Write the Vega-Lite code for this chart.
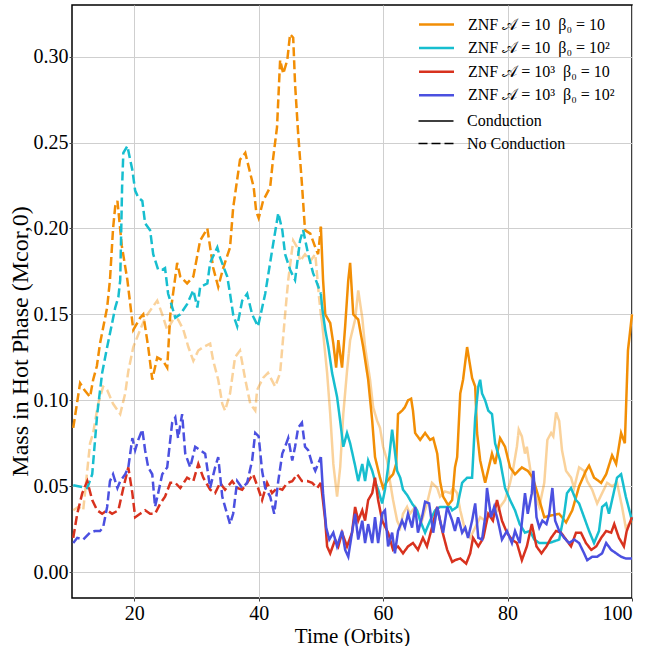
{
"$schema": "https://vega.github.io/schema/vega-lite/v6.json",
"width": 560, "height": 593,
"autosize": {"type": "none"},
"padding": {"left": 72, "top": 5, "right": 16, "bottom": 48},
"background": "white",
"config": {
 "view": {"stroke": "black", "strokeWidth": 1.5},
 "font": "Liberation Serif",
 "axis": {"labelFont": "Liberation Serif", "titleFont": "Liberation Serif", "labelFontSize": 20, "titleFontSize": 21, "titleFontWeight": "normal", "labelColor": "black", "titleColor": "black", "gridColor": "#cfcfcf", "gridWidth": 1, "ticks": true, "tickSize": 3, "tickColor": "#444444", "domain": false},
 "legend": {"labelFont": "Liberation Serif", "labelFontSize": 16, "labelColor": "black", "symbolType": "M-1.75,0H1.75", "symbolSize": 400, "labelOffset": 20, "rowPadding": 3.6, "padding": 0, "title": null}
},
"data": {"values": [
{"s":"P","c":"N","x":10.2,"y":0.036},{"s":"P","c":"N","x":11.0,"y":0.038},{"s":"P","c":"N","x":11.8,"y":0.036},{"s":"P","c":"N","x":12.9,"y":0.075},{"s":"P","c":"N","x":13.4,"y":0.081},{"s":"P","c":"N","x":14.2,"y":0.098},{"s":"P","c":"N","x":15.0,"y":0.108},{"s":"P","c":"N","x":15.65,"y":0.106},{"s":"P","c":"N","x":16.6,"y":0.098},{"s":"P","c":"N","x":17.75,"y":0.092},{"s":"P","c":"N","x":18.55,"y":0.104},{"s":"P","c":"N","x":19.05,"y":0.117},{"s":"P","c":"N","x":19.85,"y":0.131},{"s":"P","c":"N","x":20.95,"y":0.141},{"s":"P","c":"N","x":21.75,"y":0.148},{"s":"P","c":"N","x":22.9,"y":0.154},{"s":"P","c":"N","x":23.7,"y":0.158},{"s":"P","c":"N","x":24.5,"y":0.15},{"s":"P","c":"N","x":25.3,"y":0.141},{"s":"P","c":"N","x":26.25,"y":0.147},{"s":"P","c":"N","x":27.05,"y":0.147},{"s":"P","c":"N","x":27.9,"y":0.141},{"s":"P","c":"N","x":28.7,"y":0.131},{"s":"P","c":"N","x":29.5,"y":0.123},{"s":"P","c":"N","x":30.3,"y":0.129},{"s":"P","c":"N","x":31.1,"y":0.131},{"s":"P","c":"N","x":32.2,"y":0.133},{"s":"P","c":"N","x":32.7,"y":0.123},{"s":"P","c":"N","x":33.5,"y":0.112},{"s":"P","c":"N","x":34.15,"y":0.098},{"s":"P","c":"N","x":34.6,"y":0.094},{"s":"P","c":"N","x":35.4,"y":0.104},{"s":"P","c":"N","x":36.2,"y":0.125},{"s":"P","c":"N","x":37.0,"y":0.129},{"s":"P","c":"N","x":37.85,"y":0.112},{"s":"P","c":"N","x":38.65,"y":0.098},{"s":"P","c":"N","x":39.45,"y":0.094},{"s":"P","c":"N","x":39.75,"y":0.106},{"s":"P","c":"N","x":40.7,"y":0.113},{"s":"P","c":"N","x":41.5,"y":0.116},{"s":"P","c":"N","x":42.65,"y":0.108},{"s":"P","c":"N","x":43.45,"y":0.116},{"s":"P","c":"N","x":44.25,"y":0.15},{"s":"P","c":"N","x":44.75,"y":0.17},{"s":"P","c":"N","x":45.55,"y":0.193},{"s":"P","c":"N","x":46.2,"y":0.189},{"s":"P","c":"N","x":46.65,"y":0.181},{"s":"P","c":"N","x":47.45,"y":0.185},{"s":"P","c":"N","x":48.3,"y":0.181},{"s":"P","c":"N","x":49.1,"y":0.185},{"s":"P","c":"N","x":49.7,"y":0.16},{"s":"P","c":"N","x":50.0,"y":0.15},
{"s":"P","c":"C","x":50.0,"y":0.15},{"s":"P","c":"C","x":50.2,"y":0.145},{"s":"P","c":"C","x":51.0,"y":0.116},{"s":"P","c":"C","x":51.5,"y":0.092},{"s":"P","c":"C","x":52.0,"y":0.063},{"s":"P","c":"C","x":52.6,"y":0.044},{"s":"P","c":"C","x":53.1,"y":0.061},{"s":"P","c":"C","x":53.6,"y":0.092},{"s":"P","c":"C","x":54.2,"y":0.117},{"s":"P","c":"C","x":54.7,"y":0.135},{"s":"P","c":"C","x":55.5,"y":0.147},{"s":"P","c":"C","x":56.0,"y":0.164},{"s":"P","c":"C","x":56.65,"y":0.148},{"s":"P","c":"C","x":57.1,"y":0.131},{"s":"P","c":"C","x":57.9,"y":0.112},{"s":"P","c":"C","x":58.4,"y":0.096},{"s":"P","c":"C","x":59.05,"y":0.088},{"s":"P","c":"C","x":59.5,"y":0.084},{"s":"P","c":"C","x":60.0,"y":0.073},{"s":"P","c":"C","x":60.65,"y":0.065},{"s":"P","c":"C","x":61.1,"y":0.053},{"s":"P","c":"C","x":61.6,"y":0.042},{"s":"P","c":"C","x":62.25,"y":0.03},{"s":"P","c":"C","x":62.75,"y":0.026},{"s":"P","c":"C","x":63.2,"y":0.034},{"s":"P","c":"C","x":63.85,"y":0.038},{"s":"P","c":"C","x":64.3,"y":0.034},{"s":"P","c":"C","x":65.15,"y":0.038},{"s":"P","c":"C","x":66.25,"y":0.03},{"s":"P","c":"C","x":67.05,"y":0.04},{"s":"P","c":"C","x":67.85,"y":0.052},{"s":"P","c":"C","x":68.7,"y":0.049},{"s":"P","c":"C","x":69.15,"y":0.044},{"s":"P","c":"C","x":69.95,"y":0.047},{"s":"P","c":"C","x":70.8,"y":0.046},{"s":"P","c":"C","x":71.25,"y":0.049},{"s":"P","c":"C","x":71.9,"y":0.046},{"s":"P","c":"C","x":72.4,"y":0.036},{"s":"P","c":"C","x":73.2,"y":0.024},{"s":"P","c":"C","x":74.0,"y":0.02},{"s":"P","c":"C","x":74.8,"y":0.026},{"s":"P","c":"C","x":75.6,"y":0.032},{"s":"P","c":"C","x":76.4,"y":0.03},{"s":"P","c":"C","x":77.2,"y":0.034},{"s":"P","c":"C","x":78.0,"y":0.034},{"s":"P","c":"C","x":78.8,"y":0.038},{"s":"P","c":"C","x":79.6,"y":0.042},{"s":"P","c":"C","x":80.4,"y":0.052},{"s":"P","c":"C","x":80.85,"y":0.059},{"s":"P","c":"C","x":81.5,"y":0.073},{"s":"P","c":"C","x":81.8,"y":0.083},{"s":"P","c":"C","x":82.3,"y":0.079},{"s":"P","c":"C","x":82.8,"y":0.069},{"s":"P","c":"C","x":83.1,"y":0.073},{"s":"P","c":"C","x":83.6,"y":0.061},{"s":"P","c":"C","x":84.3,"y":0.046},{"s":"P","c":"C","x":85.1,"y":0.038},{"s":"P","c":"C","x":85.9,"y":0.052},{"s":"P","c":"C","x":86.4,"y":0.077},{"s":"P","c":"C","x":87.0,"y":0.081},{"s":"P","c":"C","x":87.35,"y":0.079},{"s":"P","c":"C","x":87.8,"y":0.093},{"s":"P","c":"C","x":88.3,"y":0.088},{"s":"P","c":"C","x":88.75,"y":0.071},{"s":"P","c":"C","x":89.4,"y":0.059},{"s":"P","c":"C","x":90.2,"y":0.055},{"s":"P","c":"C","x":90.7,"y":0.049},{"s":"P","c":"C","x":91.5,"y":0.061},{"s":"P","c":"C","x":92.3,"y":0.059},{"s":"P","c":"C","x":92.8,"y":0.053},{"s":"P","c":"C","x":93.6,"y":0.048},{"s":"P","c":"C","x":94.4,"y":0.04},{"s":"P","c":"C","x":95.2,"y":0.046},{"s":"P","c":"C","x":96.0,"y":0.052},{"s":"P","c":"C","x":96.8,"y":0.05},{"s":"P","c":"C","x":97.6,"y":0.052},{"s":"P","c":"C","x":98.4,"y":0.038},{"s":"P","c":"C","x":99.0,"y":0.026},{"s":"P","c":"C","x":99.5,"y":0.028},{"s":"P","c":"C","x":100,"y":0.03},

{"s":"A","c":"N","x":10.2,"y":0.084},{"s":"A","c":"N","x":11.3,"y":0.11},{"s":"A","c":"N","x":12.0,"y":0.106},{"s":"A","c":"N","x":12.9,"y":0.102},{"s":"A","c":"N","x":13.4,"y":0.112},{"s":"A","c":"N","x":14.0,"y":0.12},{"s":"A","c":"N","x":14.5,"y":0.133},{"s":"A","c":"N","x":15.65,"y":0.154},{"s":"A","c":"N","x":16.1,"y":0.17},{"s":"A","c":"N","x":16.6,"y":0.2},{"s":"A","c":"N","x":16.95,"y":0.213},{"s":"A","c":"N","x":17.3,"y":0.216},{"s":"A","c":"N","x":17.6,"y":0.205},{"s":"A","c":"N","x":18.0,"y":0.19},{"s":"A","c":"N","x":18.9,"y":0.17},{"s":"A","c":"N","x":19.85,"y":0.141},{"s":"A","c":"N","x":20.95,"y":0.148},{"s":"A","c":"N","x":21.45,"y":0.15},{"s":"A","c":"N","x":22.25,"y":0.131},{"s":"A","c":"N","x":22.9,"y":0.112},{"s":"A","c":"N","x":23.7,"y":0.125},{"s":"A","c":"N","x":24.65,"y":0.123},{"s":"A","c":"N","x":25.3,"y":0.119},{"s":"A","c":"N","x":25.8,"y":0.15},{"s":"A","c":"N","x":26.9,"y":0.18},{"s":"A","c":"N","x":27.4,"y":0.172},{"s":"A","c":"N","x":28.5,"y":0.168},{"s":"A","c":"N","x":29.5,"y":0.172},{"s":"A","c":"N","x":30.6,"y":0.193},{"s":"A","c":"N","x":31.75,"y":0.2},{"s":"A","c":"N","x":32.7,"y":0.177},{"s":"A","c":"N","x":33.5,"y":0.166},{"s":"A","c":"N","x":34.3,"y":0.177},{"s":"A","c":"N","x":35.4,"y":0.189},{"s":"A","c":"N","x":35.9,"y":0.212},{"s":"A","c":"N","x":37.0,"y":0.24},{"s":"A","c":"N","x":37.85,"y":0.244},{"s":"A","c":"N","x":38.65,"y":0.232},{"s":"A","c":"N","x":39.2,"y":0.224},{"s":"A","c":"N","x":39.6,"y":0.21},{"s":"A","c":"N","x":40.0,"y":0.206},{"s":"A","c":"N","x":40.3,"y":0.21},{"s":"A","c":"N","x":40.7,"y":0.216},{"s":"A","c":"N","x":41.85,"y":0.224},{"s":"A","c":"N","x":42.3,"y":0.24},{"s":"A","c":"N","x":42.95,"y":0.259},{"s":"A","c":"N","x":43.45,"y":0.298},{"s":"A","c":"N","x":43.95,"y":0.29},{"s":"A","c":"N","x":44.6,"y":0.298},{"s":"A","c":"N","x":45.05,"y":0.313},{"s":"A","c":"N","x":45.55,"y":0.311},{"s":"A","c":"N","x":45.85,"y":0.284},{"s":"A","c":"N","x":46.35,"y":0.255},{"s":"A","c":"N","x":46.95,"y":0.226},{"s":"A","c":"N","x":47.45,"y":0.199},{"s":"A","c":"N","x":48.3,"y":0.197},{"s":"A","c":"N","x":49.1,"y":0.189},{"s":"A","c":"N","x":49.55,"y":0.185},{"s":"A","c":"N","x":49.9,"y":0.197},{"s":"A","c":"N","x":50.0,"y":0.201},
{"s":"A","c":"C","x":50.0,"y":0.201},{"s":"A","c":"C","x":50.35,"y":0.17},{"s":"A","c":"C","x":50.7,"y":0.15},{"s":"A","c":"C","x":51.5,"y":0.145},{"s":"A","c":"C","x":52.0,"y":0.133},{"s":"A","c":"C","x":52.45,"y":0.119},{"s":"A","c":"C","x":52.8,"y":0.135},{"s":"A","c":"C","x":53.4,"y":0.119},{"s":"A","c":"C","x":53.9,"y":0.143},{"s":"A","c":"C","x":54.4,"y":0.17},{"s":"A","c":"C","x":54.7,"y":0.18},{"s":"A","c":"C","x":55.2,"y":0.15},{"s":"A","c":"C","x":56.0,"y":0.147},{"s":"A","c":"C","x":56.8,"y":0.131},{"s":"A","c":"C","x":57.6,"y":0.112},{"s":"A","c":"C","x":58.25,"y":0.088},{"s":"A","c":"C","x":58.7,"y":0.067},{"s":"A","c":"C","x":59.5,"y":0.055},{"s":"A","c":"C","x":60.0,"y":0.049},{"s":"A","c":"C","x":60.65,"y":0.053},{"s":"A","c":"C","x":61.1,"y":0.055},{"s":"A","c":"C","x":61.6,"y":0.057},{"s":"A","c":"C","x":62.1,"y":0.063},{"s":"A","c":"C","x":62.4,"y":0.092},{"s":"A","c":"C","x":63.05,"y":0.094},{"s":"A","c":"C","x":63.5,"y":0.096},{"s":"A","c":"C","x":64.0,"y":0.1},{"s":"A","c":"C","x":64.5,"y":0.101},{"s":"A","c":"C","x":64.8,"y":0.094},{"s":"A","c":"C","x":65.15,"y":0.081},{"s":"A","c":"C","x":65.95,"y":0.077},{"s":"A","c":"C","x":66.75,"y":0.081},{"s":"A","c":"C","x":67.55,"y":0.077},{"s":"A","c":"C","x":68.05,"y":0.078},{"s":"A","c":"C","x":68.7,"y":0.069},{"s":"A","c":"C","x":69.15,"y":0.053},{"s":"A","c":"C","x":69.65,"y":0.044},{"s":"A","c":"C","x":70.45,"y":0.039},{"s":"A","c":"C","x":71.1,"y":0.042},{"s":"A","c":"C","x":71.55,"y":0.061},{"s":"A","c":"C","x":71.9,"y":0.067},{"s":"A","c":"C","x":72.4,"y":0.104},{"s":"A","c":"C","x":72.85,"y":0.112},{"s":"A","c":"C","x":73.5,"y":0.131},{"s":"A","c":"C","x":74.3,"y":0.113},{"s":"A","c":"C","x":74.8,"y":0.108},{"s":"A","c":"C","x":75.1,"y":0.081},{"s":"A","c":"C","x":75.6,"y":0.065},{"s":"A","c":"C","x":76.4,"y":0.052},{"s":"A","c":"C","x":77.5,"y":0.069},{"s":"A","c":"C","x":78.0,"y":0.063},{"s":"A","c":"C","x":78.8,"y":0.078},{"s":"A","c":"C","x":79.6,"y":0.073},{"s":"A","c":"C","x":80.4,"y":0.061},{"s":"A","c":"C","x":81.2,"y":0.057},{"s":"A","c":"C","x":82.3,"y":0.061},{"s":"A","c":"C","x":83.25,"y":0.059},{"s":"A","c":"C","x":84.05,"y":0.055},{"s":"A","c":"C","x":84.8,"y":0.046},{"s":"A","c":"C","x":85.9,"y":0.032},{"s":"A","c":"C","x":87.0,"y":0.033},{"s":"A","c":"C","x":88.3,"y":0.034},{"s":"A","c":"C","x":89.4,"y":0.029},{"s":"A","c":"C","x":90.4,"y":0.036},{"s":"A","c":"C","x":91.5,"y":0.05},{"s":"A","c":"C","x":92.6,"y":0.059},{"s":"A","c":"C","x":93.1,"y":0.062},{"s":"A","c":"C","x":93.9,"y":0.055},{"s":"A","c":"C","x":95.05,"y":0.052},{"s":"A","c":"C","x":95.85,"y":0.057},{"s":"A","c":"C","x":96.8,"y":0.068},{"s":"A","c":"C","x":97.45,"y":0.063},{"s":"A","c":"C","x":98.25,"y":0.081},{"s":"A","c":"C","x":98.85,"y":0.075},{"s":"A","c":"C","x":99.35,"y":0.129},{"s":"A","c":"C","x":100,"y":0.15},

{"s":"B","c":"N","x":10.2,"y":0.0506},{"s":"B","c":"N","x":11.0,"y":0.05},{"s":"B","c":"N","x":12.45,"y":0.049},{"s":"B","c":"N","x":13.25,"y":0.057},{"s":"B","c":"N","x":14.05,"y":0.092},{"s":"B","c":"N","x":14.85,"y":0.116},{"s":"B","c":"N","x":15.65,"y":0.131},{"s":"B","c":"N","x":16.45,"y":0.145},{"s":"B","c":"N","x":16.95,"y":0.154},{"s":"B","c":"N","x":17.45,"y":0.16},{"s":"B","c":"N","x":17.75,"y":0.17},{"s":"B","c":"N","x":18.05,"y":0.224},{"s":"B","c":"N","x":18.25,"y":0.244},{"s":"B","c":"N","x":18.9,"y":0.248},{"s":"B","c":"N","x":19.35,"y":0.24},{"s":"B","c":"N","x":19.7,"y":0.234},{"s":"B","c":"N","x":20.15,"y":0.222},{"s":"B","c":"N","x":20.65,"y":0.218},{"s":"B","c":"N","x":21.3,"y":0.216},{"s":"B","c":"N","x":21.75,"y":0.203},{"s":"B","c":"N","x":22.55,"y":0.199},{"s":"B","c":"N","x":23.05,"y":0.185},{"s":"B","c":"N","x":23.85,"y":0.176},{"s":"B","c":"N","x":24.5,"y":0.176},{"s":"B","c":"N","x":24.95,"y":0.177},{"s":"B","c":"N","x":25.45,"y":0.162},{"s":"B","c":"N","x":25.8,"y":0.158},{"s":"B","c":"N","x":26.6,"y":0.148},{"s":"B","c":"N","x":27.4,"y":0.15},{"s":"B","c":"N","x":28.5,"y":0.156},{"s":"B","c":"N","x":29.5,"y":0.164},{"s":"B","c":"N","x":30.15,"y":0.154},{"s":"B","c":"N","x":30.6,"y":0.166},{"s":"B","c":"N","x":31.75,"y":0.168},{"s":"B","c":"N","x":32.2,"y":0.18},{"s":"B","c":"N","x":33.35,"y":0.189},{"s":"B","c":"N","x":33.8,"y":0.183},{"s":"B","c":"N","x":34.95,"y":0.172},{"s":"B","c":"N","x":35.4,"y":0.162},{"s":"B","c":"N","x":35.9,"y":0.15},{"s":"B","c":"N","x":36.55,"y":0.143},{"s":"B","c":"N","x":37.35,"y":0.158},{"s":"B","c":"N","x":38.15,"y":0.162},{"s":"B","c":"N","x":38.95,"y":0.15},{"s":"B","c":"N","x":39.9,"y":0.143},{"s":"B","c":"N","x":41.05,"y":0.162},{"s":"B","c":"N","x":42.15,"y":0.187},{"s":"B","c":"N","x":43.15,"y":0.209},{"s":"B","c":"N","x":43.8,"y":0.199},{"s":"B","c":"N","x":44.25,"y":0.185},{"s":"B","c":"N","x":45.05,"y":0.176},{"s":"B","c":"N","x":45.85,"y":0.17},{"s":"B","c":"N","x":46.65,"y":0.193},{"s":"B","c":"N","x":47.15,"y":0.199},{"s":"B","c":"N","x":47.95,"y":0.185},{"s":"B","c":"N","x":48.75,"y":0.174},{"s":"B","c":"N","x":49.4,"y":0.168},{"s":"B","c":"N","x":50.0,"y":0.162},
{"s":"B","c":"C","x":50.0,"y":0.162},{"s":"B","c":"C","x":50.2,"y":0.154},{"s":"B","c":"C","x":50.7,"y":0.141},{"s":"B","c":"C","x":51.2,"y":0.131},{"s":"B","c":"C","x":51.8,"y":0.116},{"s":"B","c":"C","x":52.6,"y":0.102},{"s":"B","c":"C","x":53.1,"y":0.088},{"s":"B","c":"C","x":53.6,"y":0.073},{"s":"B","c":"C","x":54.2,"y":0.081},{"s":"B","c":"C","x":54.7,"y":0.075},{"s":"B","c":"C","x":55.5,"y":0.062},{"s":"B","c":"C","x":56.0,"y":0.053},{"s":"B","c":"C","x":56.65,"y":0.063},{"s":"B","c":"C","x":57.1,"y":0.053},{"s":"B","c":"C","x":57.6,"y":0.065},{"s":"B","c":"C","x":58.25,"y":0.059},{"s":"B","c":"C","x":58.7,"y":0.053},{"s":"B","c":"C","x":59.2,"y":0.048},{"s":"B","c":"C","x":59.85,"y":0.04},{"s":"B","c":"C","x":60.3,"y":0.048},{"s":"B","c":"C","x":60.8,"y":0.061},{"s":"B","c":"C","x":61.45,"y":0.083},{"s":"B","c":"C","x":61.8,"y":0.073},{"s":"B","c":"C","x":62.25,"y":0.059},{"s":"B","c":"C","x":62.75,"y":0.055},{"s":"B","c":"C","x":63.2,"y":0.048},{"s":"B","c":"C","x":63.85,"y":0.045},{"s":"B","c":"C","x":64.65,"y":0.04},{"s":"B","c":"C","x":65.45,"y":0.036},{"s":"B","c":"C","x":65.95,"y":0.03},{"s":"B","c":"C","x":66.75,"y":0.023},{"s":"B","c":"C","x":67.55,"y":0.03},{"s":"B","c":"C","x":68.35,"y":0.036},{"s":"B","c":"C","x":69.15,"y":0.038},{"s":"B","c":"C","x":69.95,"y":0.038},{"s":"B","c":"C","x":70.8,"y":0.038},{"s":"B","c":"C","x":71.1,"y":0.036},{"s":"B","c":"C","x":71.9,"y":0.038},{"s":"B","c":"C","x":72.7,"y":0.052},{"s":"B","c":"C","x":73.5,"y":0.055},{"s":"B","c":"C","x":74.3,"y":0.055},{"s":"B","c":"C","x":74.8,"y":0.09},{"s":"B","c":"C","x":75.3,"y":0.108},{"s":"B","c":"C","x":75.6,"y":0.112},{"s":"B","c":"C","x":75.9,"y":0.104},{"s":"B","c":"C","x":76.4,"y":0.1},{"s":"B","c":"C","x":76.9,"y":0.094},{"s":"B","c":"C","x":77.5,"y":0.092},{"s":"B","c":"C","x":78.0,"y":0.075},{"s":"B","c":"C","x":78.8,"y":0.065},{"s":"B","c":"C","x":79.6,"y":0.049},{"s":"B","c":"C","x":80.4,"y":0.042},{"s":"B","c":"C","x":81.2,"y":0.036},{"s":"B","c":"C","x":81.95,"y":0.028},{"s":"B","c":"C","x":82.8,"y":0.023},{"s":"B","c":"C","x":83.6,"y":0.024},{"s":"B","c":"C","x":84.3,"y":0.019},{"s":"B","c":"C","x":85.1,"y":0.017},{"s":"B","c":"C","x":86.7,"y":0.017},{"s":"B","c":"C","x":88.3,"y":0.019},{"s":"B","c":"C","x":89.1,"y":0.034},{"s":"B","c":"C","x":89.55,"y":0.046},{"s":"B","c":"C","x":90.2,"y":0.049},{"s":"B","c":"C","x":91.0,"y":0.042},{"s":"B","c":"C","x":91.5,"y":0.04},{"s":"B","c":"C","x":92.3,"y":0.032},{"s":"B","c":"C","x":93.1,"y":0.024},{"s":"B","c":"C","x":93.9,"y":0.017},{"s":"B","c":"C","x":94.7,"y":0.024},{"s":"B","c":"C","x":95.2,"y":0.038},{"s":"B","c":"C","x":95.85,"y":0.04},{"s":"B","c":"C","x":96.3,"y":0.034},{"s":"B","c":"C","x":96.8,"y":0.042},{"s":"B","c":"C","x":97.6,"y":0.055},{"s":"B","c":"C","x":98.25,"y":0.057},{"s":"B","c":"C","x":99.0,"y":0.044},{"s":"B","c":"C","x":100,"y":0.03},

{"s":"C","c":"N","x":10.2,"y":0.02},{"s":"C","c":"N","x":10.84,"y":0.034},{"s":"C","c":"N","x":11.65,"y":0.046},{"s":"C","c":"N","x":12.45,"y":0.053},{"s":"C","c":"N","x":13.25,"y":0.042},{"s":"C","c":"N","x":14.05,"y":0.036},{"s":"C","c":"N","x":14.85,"y":0.034},{"s":"C","c":"N","x":15.65,"y":0.036},{"s":"C","c":"N","x":16.45,"y":0.034},{"s":"C","c":"N","x":17.45,"y":0.036},{"s":"C","c":"N","x":18.25,"y":0.049},{"s":"C","c":"N","x":19.05,"y":0.061},{"s":"C","c":"N","x":19.7,"y":0.046},{"s":"C","c":"N","x":20.15,"y":0.032},{"s":"C","c":"N","x":20.95,"y":0.034},{"s":"C","c":"N","x":21.75,"y":0.036},{"s":"C","c":"N","x":22.55,"y":0.034},{"s":"C","c":"N","x":23.35,"y":0.034},{"s":"C","c":"N","x":24.2,"y":0.04},{"s":"C","c":"N","x":24.95,"y":0.044},{"s":"C","c":"N","x":25.8,"y":0.052},{"s":"C","c":"N","x":26.6,"y":0.052},{"s":"C","c":"N","x":27.4,"y":0.049},{"s":"C","c":"N","x":28.5,"y":0.055},{"s":"C","c":"N","x":29.5,"y":0.053},{"s":"C","c":"N","x":30.3,"y":0.063},{"s":"C","c":"N","x":31.1,"y":0.055},{"s":"C","c":"N","x":32.2,"y":0.048},{"s":"C","c":"N","x":33.0,"y":0.046},{"s":"C","c":"N","x":33.8,"y":0.052},{"s":"C","c":"N","x":34.6,"y":0.048},{"s":"C","c":"N","x":35.75,"y":0.053},{"s":"C","c":"N","x":36.55,"y":0.049},{"s":"C","c":"N","x":37.35,"y":0.048},{"s":"C","c":"N","x":38.15,"y":0.052},{"s":"C","c":"N","x":39.1,"y":0.057},{"s":"C","c":"N","x":39.9,"y":0.049},{"s":"C","c":"N","x":40.55,"y":0.042},{"s":"C","c":"N","x":41.35,"y":0.052},{"s":"C","c":"N","x":42.15,"y":0.046},{"s":"C","c":"N","x":42.95,"y":0.049},{"s":"C","c":"N","x":43.8,"y":0.048},{"s":"C","c":"N","x":44.6,"y":0.052},{"s":"C","c":"N","x":45.4,"y":0.053},{"s":"C","c":"N","x":46.2,"y":0.057},{"s":"C","c":"N","x":46.95,"y":0.053},{"s":"C","c":"N","x":47.8,"y":0.053},{"s":"C","c":"N","x":48.6,"y":0.052},{"s":"C","c":"N","x":49.4,"y":0.049},{"s":"C","c":"N","x":50.0,"y":0.052},
{"s":"C","c":"C","x":50.0,"y":0.052},{"s":"C","c":"C","x":50.7,"y":0.03},{"s":"C","c":"C","x":51.0,"y":0.015},{"s":"C","c":"C","x":51.5,"y":0.011},{"s":"C","c":"C","x":52.3,"y":0.019},{"s":"C","c":"C","x":52.8,"y":0.015},{"s":"C","c":"C","x":53.4,"y":0.023},{"s":"C","c":"C","x":54.2,"y":0.015},{"s":"C","c":"C","x":55.0,"y":0.023},{"s":"C","c":"C","x":55.5,"y":0.038},{"s":"C","c":"C","x":56.0,"y":0.03},{"s":"C","c":"C","x":56.65,"y":0.036},{"s":"C","c":"C","x":57.1,"y":0.03},{"s":"C","c":"C","x":57.6,"y":0.042},{"s":"C","c":"C","x":58.25,"y":0.046},{"s":"C","c":"C","x":58.7,"y":0.055},{"s":"C","c":"C","x":59.2,"y":0.042},{"s":"C","c":"C","x":59.85,"y":0.03},{"s":"C","c":"C","x":60.8,"y":0.023},{"s":"C","c":"C","x":61.6,"y":0.013},{"s":"C","c":"C","x":62.4,"y":0.015},{"s":"C","c":"C","x":63.2,"y":0.011},{"s":"C","c":"C","x":64.0,"y":0.015},{"s":"C","c":"C","x":64.8,"y":0.017},{"s":"C","c":"C","x":65.6,"y":0.013},{"s":"C","c":"C","x":66.4,"y":0.02},{"s":"C","c":"C","x":67.05,"y":0.015},{"s":"C","c":"C","x":67.85,"y":0.026},{"s":"C","c":"C","x":68.7,"y":0.038},{"s":"C","c":"C","x":69.5,"y":0.024},{"s":"C","c":"C","x":70.3,"y":0.013},{"s":"C","c":"C","x":71.1,"y":0.006},{"s":"C","c":"C","x":71.55,"y":0.007},{"s":"C","c":"C","x":72.4,"y":0.008},{"s":"C","c":"C","x":73.35,"y":0.005},{"s":"C","c":"C","x":74.0,"y":0.011},{"s":"C","c":"C","x":74.45,"y":0.02},{"s":"C","c":"C","x":75.3,"y":0.015},{"s":"C","c":"C","x":76.1,"y":0.02},{"s":"C","c":"C","x":76.9,"y":0.034},{"s":"C","c":"C","x":77.65,"y":0.03},{"s":"C","c":"C","x":78.3,"y":0.042},{"s":"C","c":"C","x":79.1,"y":0.03},{"s":"C","c":"C","x":79.9,"y":0.023},{"s":"C","c":"C","x":80.7,"y":0.019},{"s":"C","c":"C","x":81.5,"y":0.017},{"s":"C","c":"C","x":82.3,"y":0.007},{"s":"C","c":"C","x":83.1,"y":0.015},{"s":"C","c":"C","x":83.9,"y":0.028},{"s":"C","c":"C","x":84.65,"y":0.015},{"s":"C","c":"C","x":85.45,"y":0.011},{"s":"C","c":"C","x":86.25,"y":0.015},{"s":"C","c":"C","x":87.0,"y":0.02},{"s":"C","c":"C","x":87.8,"y":0.024},{"s":"C","c":"C","x":88.6,"y":0.023},{"s":"C","c":"C","x":89.4,"y":0.019},{"s":"C","c":"C","x":90.2,"y":0.015},{"s":"C","c":"C","x":91.0,"y":0.023},{"s":"C","c":"C","x":91.8,"y":0.023},{"s":"C","c":"C","x":92.6,"y":0.017},{"s":"C","c":"C","x":93.45,"y":0.013},{"s":"C","c":"C","x":94.25,"y":0.015},{"s":"C","c":"C","x":95.05,"y":0.02},{"s":"C","c":"C","x":95.85,"y":0.024},{"s":"C","c":"C","x":96.65,"y":0.023},{"s":"C","c":"C","x":97.15,"y":0.028},{"s":"C","c":"C","x":97.9,"y":0.02},{"s":"C","c":"C","x":98.7,"y":0.015},{"s":"C","c":"C","x":99.15,"y":0.024},{"s":"C","c":"C","x":100,"y":0.032},

{"s":"D","c":"N","x":10.2,"y":0.017},{"s":"D","c":"N","x":10.84,"y":0.02},{"s":"D","c":"N","x":11.8,"y":0.019},{"s":"D","c":"N","x":12.9,"y":0.023},{"s":"D","c":"N","x":13.7,"y":0.024},{"s":"D","c":"N","x":14.5,"y":0.024},{"s":"D","c":"N","x":15.0,"y":0.026},{"s":"D","c":"N","x":15.65,"y":0.038},{"s":"D","c":"N","x":16.1,"y":0.053},{"s":"D","c":"N","x":16.6,"y":0.057},{"s":"D","c":"N","x":17.3,"y":0.049},{"s":"D","c":"N","x":17.75,"y":0.053},{"s":"D","c":"N","x":18.55,"y":0.057},{"s":"D","c":"N","x":19.05,"y":0.061},{"s":"D","c":"N","x":19.7,"y":0.078},{"s":"D","c":"N","x":20.15,"y":0.071},{"s":"D","c":"N","x":20.65,"y":0.077},{"s":"D","c":"N","x":21.3,"y":0.083},{"s":"D","c":"N","x":21.75,"y":0.071},{"s":"D","c":"N","x":22.25,"y":0.061},{"s":"D","c":"N","x":22.9,"y":0.057},{"s":"D","c":"N","x":23.35,"y":0.038},{"s":"D","c":"N","x":23.85,"y":0.046},{"s":"D","c":"N","x":24.5,"y":0.057},{"s":"D","c":"N","x":25.3,"y":0.061},{"s":"D","c":"N","x":26.1,"y":0.087},{"s":"D","c":"N","x":26.6,"y":0.09},{"s":"D","c":"N","x":27.05,"y":0.078},{"s":"D","c":"N","x":27.7,"y":0.092},{"s":"D","c":"N","x":28.2,"y":0.069},{"s":"D","c":"N","x":29.0,"y":0.061},{"s":"D","c":"N","x":29.8,"y":0.073},{"s":"D","c":"N","x":30.6,"y":0.071},{"s":"D","c":"N","x":31.4,"y":0.069},{"s":"D","c":"N","x":32.2,"y":0.049},{"s":"D","c":"N","x":33.0,"y":0.061},{"s":"D","c":"N","x":33.5,"y":0.067},{"s":"D","c":"N","x":34.15,"y":0.044},{"s":"D","c":"N","x":34.6,"y":0.038},{"s":"D","c":"N","x":35.4,"y":0.028},{"s":"D","c":"N","x":35.9,"y":0.034},{"s":"D","c":"N","x":36.55,"y":0.053},{"s":"D","c":"N","x":37.35,"y":0.049},{"s":"D","c":"N","x":38.15,"y":0.052},{"s":"D","c":"N","x":38.95,"y":0.065},{"s":"D","c":"N","x":39.45,"y":0.081},{"s":"D","c":"N","x":40.0,"y":0.079},{"s":"D","c":"N","x":40.55,"y":0.059},{"s":"D","c":"N","x":41.05,"y":0.049},{"s":"D","c":"N","x":41.85,"y":0.044},{"s":"D","c":"N","x":42.5,"y":0.034},{"s":"D","c":"N","x":43.15,"y":0.053},{"s":"D","c":"N","x":43.8,"y":0.069},{"s":"D","c":"N","x":44.25,"y":0.073},{"s":"D","c":"N","x":44.75,"y":0.078},{"s":"D","c":"N","x":45.4,"y":0.065},{"s":"D","c":"N","x":45.85,"y":0.073},{"s":"D","c":"N","x":46.35,"y":0.084},{"s":"D","c":"N","x":46.95,"y":0.087},{"s":"D","c":"N","x":47.45,"y":0.073},{"s":"D","c":"N","x":47.95,"y":0.071},{"s":"D","c":"N","x":48.6,"y":0.063},{"s":"D","c":"N","x":49.1,"y":0.059},{"s":"D","c":"N","x":49.55,"y":0.063},{"s":"D","c":"N","x":50.0,"y":0.067},
{"s":"D","c":"C","x":50.0,"y":0.067},{"s":"D","c":"C","x":50.35,"y":0.046},{"s":"D","c":"C","x":50.85,"y":0.026},{"s":"D","c":"C","x":51.35,"y":0.019},{"s":"D","c":"C","x":52.0,"y":0.023},{"s":"D","c":"C","x":52.6,"y":0.015},{"s":"D","c":"C","x":53.4,"y":0.024},{"s":"D","c":"C","x":53.9,"y":0.013},{"s":"D","c":"C","x":54.4,"y":0.009},{"s":"D","c":"C","x":55.0,"y":0.023},{"s":"D","c":"C","x":55.5,"y":0.034},{"s":"D","c":"C","x":56.0,"y":0.019},{"s":"D","c":"C","x":56.65,"y":0.03},{"s":"D","c":"C","x":57.1,"y":0.017},{"s":"D","c":"C","x":57.6,"y":0.028},{"s":"D","c":"C","x":58.25,"y":0.017},{"s":"D","c":"C","x":58.7,"y":0.032},{"s":"D","c":"C","x":59.2,"y":0.017},{"s":"D","c":"C","x":59.85,"y":0.034},{"s":"D","c":"C","x":60.3,"y":0.036},{"s":"D","c":"C","x":60.8,"y":0.015},{"s":"D","c":"C","x":61.45,"y":0.023},{"s":"D","c":"C","x":61.9,"y":0.011},{"s":"D","c":"C","x":62.4,"y":0.024},{"s":"D","c":"C","x":63.05,"y":0.03},{"s":"D","c":"C","x":63.5,"y":0.026},{"s":"D","c":"C","x":64.0,"y":0.034},{"s":"D","c":"C","x":64.65,"y":0.026},{"s":"D","c":"C","x":65.15,"y":0.038},{"s":"D","c":"C","x":65.6,"y":0.023},{"s":"D","c":"C","x":66.25,"y":0.032},{"s":"D","c":"C","x":66.75,"y":0.041},{"s":"D","c":"C","x":67.4,"y":0.04},{"s":"D","c":"C","x":68.05,"y":0.023},{"s":"D","c":"C","x":68.7,"y":0.038},{"s":"D","c":"C","x":69.15,"y":0.03},{"s":"D","c":"C","x":69.65,"y":0.023},{"s":"D","c":"C","x":70.3,"y":0.038},{"s":"D","c":"C","x":71.1,"y":0.03},{"s":"D","c":"C","x":71.55,"y":0.024},{"s":"D","c":"C","x":72.05,"y":0.032},{"s":"D","c":"C","x":72.7,"y":0.023},{"s":"D","c":"C","x":73.2,"y":0.026},{"s":"D","c":"C","x":73.65,"y":0.02},{"s":"D","c":"C","x":74.3,"y":0.03},{"s":"D","c":"C","x":74.8,"y":0.04},{"s":"D","c":"C","x":75.3,"y":0.02},{"s":"D","c":"C","x":75.9,"y":0.019},{"s":"D","c":"C","x":76.4,"y":0.032},{"s":"D","c":"C","x":76.7,"y":0.049},{"s":"D","c":"C","x":77.35,"y":0.032},{"s":"D","c":"C","x":77.85,"y":0.038},{"s":"D","c":"C","x":78.45,"y":0.03},{"s":"D","c":"C","x":79.1,"y":0.019},{"s":"D","c":"C","x":79.9,"y":0.024},{"s":"D","c":"C","x":80.7,"y":0.017},{"s":"D","c":"C","x":81.2,"y":0.024},{"s":"D","c":"C","x":81.95,"y":0.017},{"s":"D","c":"C","x":82.8,"y":0.046},{"s":"D","c":"C","x":83.25,"y":0.034},{"s":"D","c":"C","x":83.9,"y":0.046},{"s":"D","c":"C","x":84.15,"y":0.059},{"s":"D","c":"C","x":84.65,"y":0.032},{"s":"D","c":"C","x":85.1,"y":0.026},{"s":"D","c":"C","x":85.6,"y":0.03},{"s":"D","c":"C","x":86.25,"y":0.028},{"s":"D","c":"C","x":86.7,"y":0.034},{"s":"D","c":"C","x":87.2,"y":0.049},{"s":"D","c":"C","x":87.65,"y":0.03},{"s":"D","c":"C","x":88.3,"y":0.024},{"s":"D","c":"C","x":89.1,"y":0.02},{"s":"D","c":"C","x":89.9,"y":0.017},{"s":"D","c":"C","x":90.7,"y":0.019},{"s":"D","c":"C","x":91.5,"y":0.017},{"s":"D","c":"C","x":92.3,"y":0.011},{"s":"D","c":"C","x":92.8,"y":0.007},{"s":"D","c":"C","x":93.6,"y":0.009},{"s":"D","c":"C","x":94.4,"y":0.009},{"s":"D","c":"C","x":95.2,"y":0.011},{"s":"D","c":"C","x":95.85,"y":0.017},{"s":"D","c":"C","x":96.65,"y":0.013},{"s":"D","c":"C","x":97.45,"y":0.011},{"s":"D","c":"C","x":98.25,"y":0.009},{"s":"D","c":"C","x":99.0,"y":0.008},{"s":"D","c":"C","x":100,"y":0.008}
]},
"encoding": {
 "x": {"field": "x", "type": "quantitative", "scale": {"domain": [10, 100], "nice": false, "zero": false}, "axis": {"values": [20, 40, 60, 80, 100], "title": "Time (Orbits)", "labelPadding": 2, "titlePadding": 2}},
 "y": {"field": "y", "type": "quantitative", "scale": {"domain": [-0.015, 0.33], "nice": false, "zero": false}, "axis": {"values": [0, 0.05, 0.1, 0.15, 0.2, 0.25, 0.3], "format": ".2f", "title": "Mass in Hot Phase (Mcor,0)", "labelPadding": 1, "titleFontSize": 24, "titleX": -52, "titleY": 336, "titleAlign": "center", "titleBaseline": "middle", "titleAngle": 270}},
 "strokeDash": {"field": "c", "type": "nominal", "scale": {"domain": ["C", "N"], "range": [[1, 0], [9, 4]]}, "legend": {"orient": "none", "legendX": 353, "legendY": 105, "symbolStrokeWidth": 1.5, "labelExpr": "datum.value == 'C' ? 'Conduction' : 'No Conduction'", "encode": {"symbols": {"update": {"stroke": {"value": "black"}, "opacity": {"value": 1}, "strokeOpacity": {"value": 1}}}}}}
},
"layer": [
 {"transform": [{"filter": "datum.s == 'P'"}], "mark": {"type": "line", "strokeWidth": 2.5, "color": "#f28e05", "opacity": 0.4}},
 {"transform": [{"filter": "datum.s != 'P'"}], "mark": {"type": "line", "strokeWidth": 2.5},
  "encoding": {"color": {"field": "s", "type": "nominal", "scale": {"domain": ["A", "B", "C", "D"], "range": ["#f28e05", "#17becf", "#d8321e", "#4b50e0"]}, "legend": {"orient": "none", "legendX": 353, "legendY": 8, "symbolStrokeWidth": 2.5, "labelExpr": "datum.value == 'A' ? 'ZNF 𝒜 = 10\u00a0\u00a0β₀ = 10' : datum.value == 'B' ? 'ZNF 𝒜 = 10\u00a0\u00a0β₀ = 10²' : datum.value == 'C' ? 'ZNF 𝒜 = 10³\u00a0\u00a0β₀ = 10' : 'ZNF 𝒜 = 10³\u00a0\u00a0β₀ = 10²'"}},
   "detail": {"field": "c"}}}
]
}
